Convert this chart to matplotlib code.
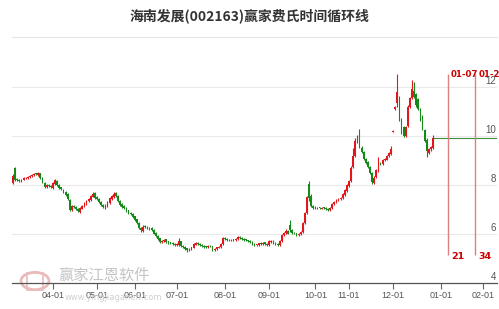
import numpy as np
import pandas as pd
import matplotlib
matplotlib.use("Agg")
import matplotlib.pyplot as plt
from matplotlib.lines import Line2D
from matplotlib.patches import Circle, Rectangle

plt.rcParams['font.family'] = ['Noto Sans CJK SC', 'DejaVu Sans']

title = "海南发展(002163)赢家费氏时间循环线"

# trading calendar (weekdays minus exchange holidays), data runs from the first date
first_day = "2020-03-05"
last_axis_day = "2021-02-26"
holidays = ["2020-04-06", "2020-05-01", "2020-05-04", "2020-05-05", "2020-06-25",
            "2020-06-26", "2020-10-01", "2020-10-02", "2020-10-05", "2020-10-06",
            "2020-10-07", "2020-10-08", "2021-01-01"]
month_ticks = ["2020-04-01", "2020-05-01", "2020-06-01", "2020-07-01", "2020-08-01",
               "2020-09-01", "2020-10-01", "2020-11-01", "2020-12-01", "2021-01-01",
               "2021-02-01"]

# daily candles
opens = [8.10, 8.70, 8.24, 8.22, 8.16, 8.22, 8.27, 8.29, 8.31, 8.35, 8.40, 8.46, 8.42, 8.47, 8.30, 8.10, 7.90, 7.99, 7.96, 7.88,
         8.05, 8.18, 8.02, 7.90, 7.80, 7.73, 7.62, 7.40, 6.98, 7.16, 7.12, 7.03, 6.90, 7.04, 7.14, 7.24, 7.34, 7.40, 7.53, 7.66,
         7.50, 7.43, 7.31, 7.20, 7.08, 7.16, 7.28, 7.44, 7.52, 7.68, 7.56, 7.36, 7.22, 7.14, 7.06, 6.96, 6.86, 6.82, 6.72, 6.60,
         6.46, 6.26, 6.12, 6.32, 6.30, 6.26, 6.24, 6.16, 6.04, 5.92, 5.82, 5.66, 5.70, 5.78, 5.70, 5.66, 5.64, 5.61, 5.54, 5.56,
         5.70, 5.52, 5.46, 5.41, 5.33, 5.37, 5.44, 5.57, 5.64, 5.61, 5.56, 5.53, 5.49, 5.46, 5.53, 5.50, 5.35, 5.39, 5.44, 5.47,
         5.58, 5.84, 5.79, 5.77, 5.73, 5.78, 5.74, 5.80, 5.89, 5.85, 5.81, 5.78, 5.75, 5.71, 5.67, 5.61, 5.55, 5.57, 5.63, 5.59,
         5.66, 5.61, 5.54, 5.68, 5.73, 5.64, 5.59, 5.54, 5.70, 5.94, 6.04, 6.14, 6.35, 6.16, 6.06, 6.03, 5.95, 6.01, 6.08, 6.46,
         6.85, 8.05, 7.55, 7.16, 7.10, 7.04, 7.09, 7.04, 7.09, 7.07, 7.03, 6.97, 7.05, 7.21, 7.29, 7.37, 7.41, 7.47, 7.61, 7.77,
         7.97, 8.16, 8.72, 9.20, 9.80, 10.15, 9.52, 9.36, 9.06, 8.92, 8.74, 8.48, 8.10, 8.31, 8.58, 8.90, 8.84, 9.02, 9.04, 9.17,
         9.28, 10.18, 11.10, 11.35, 11.55, 10.60, 10.35, 10.00, 10.40, 11.20, 11.55, 11.85, 11.70, 11.50, 11.10, 10.80, 10.25, 9.85, 9.30, 9.45,
         9.50]
highs = [8.45, 8.75, 8.28, 8.26, 8.26, 8.31, 8.34, 8.36, 8.40, 8.45, 8.50, 8.50, 8.52, 8.50, 8.33, 8.13, 8.03, 8.03, 7.99, 8.12,
         8.25, 8.21, 8.05, 7.93, 7.84, 7.76, 7.66, 7.44, 7.20, 7.20, 7.15, 7.06, 7.09, 7.19, 7.29, 7.39, 7.46, 7.59, 7.70, 7.70,
         7.54, 7.46, 7.34, 7.23, 7.22, 7.34, 7.49, 7.59, 7.70, 7.71, 7.59, 7.39, 7.26, 7.18, 7.09, 6.99, 6.90, 6.85, 6.75, 6.63,
         6.49, 6.29, 6.38, 6.36, 6.33, 6.29, 6.27, 6.19, 6.07, 5.95, 5.85, 5.76, 5.80, 5.81, 5.73, 5.69, 5.67, 5.64, 5.62, 5.82,
         5.73, 5.55, 5.49, 5.44, 5.41, 5.48, 5.62, 5.67, 5.67, 5.64, 5.59, 5.56, 5.52, 5.55, 5.56, 5.53, 5.44, 5.48, 5.51, 5.62,
         5.86, 5.88, 5.82, 5.80, 5.80, 5.81, 5.84, 5.92, 5.92, 5.88, 5.84, 5.81, 5.77, 5.74, 5.70, 5.64, 5.61, 5.65, 5.66, 5.68,
         5.69, 5.64, 5.74, 5.76, 5.76, 5.67, 5.62, 5.74, 6.00, 6.10, 6.22, 6.16, 6.56, 6.20, 6.10, 6.06, 6.05, 6.12, 6.50, 6.90,
         7.54, 8.15, 7.62, 7.20, 7.13, 7.12, 7.12, 7.12, 7.12, 7.10, 7.06, 7.10, 7.26, 7.34, 7.42, 7.46, 7.52, 7.66, 7.82, 8.03,
         8.20, 8.76, 9.50, 9.90, 10.05, 10.30, 9.58, 9.40, 9.12, 8.96, 8.78, 8.52, 8.35, 8.65, 9.15, 8.95, 9.06, 9.10, 9.23, 9.35,
         9.60, 10.25, 11.22, 12.55, 11.62, 10.75, 10.40, 10.40, 11.25, 11.60, 12.30, 12.20, 11.75, 11.55, 11.15, 10.85, 10.30, 9.90, 9.50, 9.60,
         10.04]
lows = [8.05, 8.18, 8.16, 8.14, 8.12, 8.19, 8.24, 8.26, 8.28, 8.32, 8.37, 8.40, 8.38, 8.26, 8.08, 7.88, 7.86, 7.91, 7.86, 7.85,
        8.01, 7.96, 7.84, 7.78, 7.68, 7.56, 7.38, 6.94, 6.94, 7.06, 6.98, 6.88, 6.86, 7.00, 7.10, 7.20, 7.30, 7.36, 7.49, 7.44,
        7.38, 7.26, 7.14, 7.06, 7.04, 7.12, 7.24, 7.40, 7.48, 7.51, 7.31, 7.16, 7.08, 7.01, 6.91, 6.81, 6.76, 6.66, 6.54, 6.41,
        6.21, 6.10, 6.08, 6.24, 6.21, 6.18, 6.11, 5.98, 5.86, 5.76, 5.64, 5.62, 5.66, 5.64, 5.61, 5.58, 5.56, 5.51, 5.50, 5.53,
        5.46, 5.41, 5.36, 5.28, 5.30, 5.34, 5.41, 5.54, 5.56, 5.51, 5.48, 5.44, 5.43, 5.42, 5.46, 5.32, 5.31, 5.36, 5.41, 5.44,
        5.55, 5.74, 5.72, 5.70, 5.70, 5.71, 5.71, 5.77, 5.80, 5.76, 5.73, 5.70, 5.66, 5.62, 5.56, 5.52, 5.51, 5.53, 5.56, 5.55,
        5.56, 5.51, 5.50, 5.64, 5.59, 5.54, 5.51, 5.50, 5.66, 5.90, 6.00, 5.98, 6.10, 6.01, 5.98, 5.92, 5.91, 5.97, 6.04, 6.42,
        6.81, 7.35, 7.10, 7.04, 7.02, 7.00, 7.01, 7.00, 7.02, 6.98, 6.94, 6.93, 7.01, 7.17, 7.25, 7.33, 7.37, 7.43, 7.57, 7.73,
        7.93, 8.12, 8.68, 9.15, 9.70, 9.50, 9.30, 9.00, 8.85, 8.68, 8.46, 8.05, 8.06, 8.27, 8.54, 8.80, 8.80, 8.98, 9.00, 9.13,
        9.24, 10.15, 11.05, 11.20, 10.60, 10.10, 9.95, 9.95, 10.35, 11.15, 11.50, 11.55, 11.20, 11.05, 10.60, 10.25, 9.75, 9.14, 9.25, 9.40,
        9.45]
closes = [8.35, 8.22, 8.20, 8.18, 8.22, 8.28, 8.30, 8.32, 8.36, 8.42, 8.45, 8.44, 8.48, 8.30, 8.12, 7.92, 7.98, 7.95, 7.90, 8.08,
          8.20, 8.00, 7.88, 7.82, 7.72, 7.60, 7.42, 6.98, 7.15, 7.10, 7.02, 6.92, 7.05, 7.15, 7.25, 7.35, 7.42, 7.55, 7.65, 7.48,
          7.42, 7.30, 7.18, 7.10, 7.18, 7.30, 7.45, 7.55, 7.65, 7.55, 7.35, 7.20, 7.12, 7.05, 6.95, 6.85, 6.80, 6.70, 6.58, 6.45,
          6.25, 6.15, 6.30, 6.28, 6.25, 6.22, 6.15, 6.02, 5.90, 5.80, 5.68, 5.72, 5.76, 5.68, 5.65, 5.62, 5.60, 5.55, 5.58, 5.72,
          5.50, 5.45, 5.40, 5.34, 5.38, 5.45, 5.58, 5.63, 5.60, 5.55, 5.52, 5.48, 5.47, 5.52, 5.50, 5.36, 5.40, 5.45, 5.48, 5.58,
          5.82, 5.78, 5.76, 5.74, 5.77, 5.75, 5.80, 5.88, 5.84, 5.80, 5.77, 5.74, 5.70, 5.66, 5.60, 5.56, 5.58, 5.62, 5.60, 5.65,
          5.60, 5.55, 5.70, 5.72, 5.63, 5.58, 5.55, 5.70, 5.95, 6.05, 6.12, 6.02, 6.15, 6.05, 6.02, 5.96, 6.02, 6.08, 6.45, 6.85,
          7.52, 7.45, 7.15, 7.08, 7.06, 7.08, 7.05, 7.08, 7.06, 7.02, 6.98, 7.06, 7.22, 7.30, 7.38, 7.42, 7.48, 7.62, 7.78, 7.98,
          8.15, 8.70, 9.20, 9.80, 9.95, 9.55, 9.35, 9.05, 8.90, 8.72, 8.50, 8.12, 8.30, 8.60, 8.88, 8.85, 9.00, 9.05, 9.18, 9.30,
          9.45, 10.22, 11.20, 11.80, 10.75, 10.20, 10.02, 10.35, 11.20, 11.55, 11.90, 11.60, 11.25, 11.10, 10.65, 10.30, 9.80, 9.40, 9.45, 9.55,
          9.90]

# Fibonacci time cycle lines
cycle_start = "2020-12-08"
cycle_bars = [21, 34]
cycle_dates = ["01-07", "01-24"]

y_ticks = [4, 6, 8, 10, 12]

up_color = "#e3161c"
down_color = "#17891a"

dates = pd.bdate_range(first_day, last_axis_day)
dates = dates[~dates.isin(pd.to_datetime(holidays))]
n = len(closes)
idx = np.arange(n)
o = np.array(opens)
c = np.array(closes)
h = np.array(highs)
l = np.array(lows)

fig = plt.figure(figsize=(4.99, 3.09), dpi=100)
ax = fig.add_axes([12 / 499, 26 / 309, 485 / 499, 238 / 309])
ax.patch.set_visible(False)

# title and separator
fig.text(0.5, 1 - 16 / 309, title, ha="center", va="center", fontsize=10,
         fontweight="bold", color="#333333")
fig.add_artist(Line2D([12 / 499, 497 / 499], [1 - 37 / 309, 1 - 37 / 309],
                      color="#e6e6e6", lw=0.8))

# watermark
fig.add_artist(Circle((35 / 499, 1 - 281 / 309), 14 / 499, transform=fig.transFigure,
                      fill=False, ec="#e9bcbc", lw=2.0, zorder=0))
fig.add_artist(Rectangle((27 / 499, 1 - 290 / 309), 16 / 499, 17 / 309,
                         transform=fig.transFigure, fill=False, ec="#e9bcbc", lw=1.2, zorder=0))
fig.text(104 / 499, 1 - 275 / 309, "赢家江恩软件", ha="center", va="center", fontsize=11,
         color="#c4c4c4", zorder=0)
fig.text(65 / 499, 1 - 298 / 309, "www.yingjiaganen.com", ha="left", va="center",
         fontsize=6, color="#d0d0d0", zorder=0, family="DejaVu Sans")

# candles
up = c >= o
cols = np.where(up, up_color, down_color)
ax.vlines(idx, l, h, colors=cols, lw=0.8, zorder=3)
body_low = np.minimum(o, c)
body_h = np.maximum(np.abs(c - o), 0.03)
ax.bar(idx, body_h, bottom=body_low, width=0.8, color=cols, lw=0, zorder=4)

# last close line
x_right = 230.5
ax.hlines(c[-1], n - 1, x_right, colors="#3f8f3f", lw=0.8, zorder=2)

# cycle lines
start_i = int(np.searchsorted(dates, pd.Timestamp(cycle_start)))
for bars, lab in zip(cycle_bars, cycle_dates):
    xi = start_i + bars
    ax.vlines(xi, 5.14, 12.53, colors="#de8080", lw=1.0, zorder=2)
    ax.text(xi + 1.6, 12.49, lab, color="#cc0000", fontsize=6.2, fontweight="bold",
            ha="left", va="center", family="DejaVu Sans")
    ax.text(xi + 1.6, 5.1, str(bars), color="#cc0000", fontsize=6.8, fontweight="bold",
            ha="left", va="center", family="DejaVu Sans")

ax.set_xlim(-0.48, x_right)
ax.set_ylim(4, 4 + 238 / 24.5)

# grid + right side labels
for v in y_ticks:
    if v > 4:
        ax.axhline(v, color="#e9e9e9", lw=0.8, zorder=1)
    ax.text(0.998, v + 0.05, str(v), transform=ax.get_yaxis_transform(), ha="right",
            va="bottom", fontsize=7, color="#555555", family="Liberation Sans")
ax.set_yticks([])

# month ticks at first trading day of each month
tick_pos = [int(np.searchsorted(dates, pd.Timestamp(m))) for m in month_ticks]
tick_lab = [pd.Timestamp(m).strftime("%m-%d") for m in month_ticks]
ax.set_xticks(tick_pos)
ax.set_xticklabels(tick_lab, fontsize=6.5, color="#555555", family="Liberation Sans")
ax.tick_params(axis="x", length=4, width=0.8, color="#666666", pad=2)

for s in ["top", "left", "right"]:
    ax.spines[s].set_visible(False)
ax.spines["bottom"].set_color("#555555")
ax.spines["bottom"].set_linewidth(0.9)

fig.savefig("out.png", dpi=100)
